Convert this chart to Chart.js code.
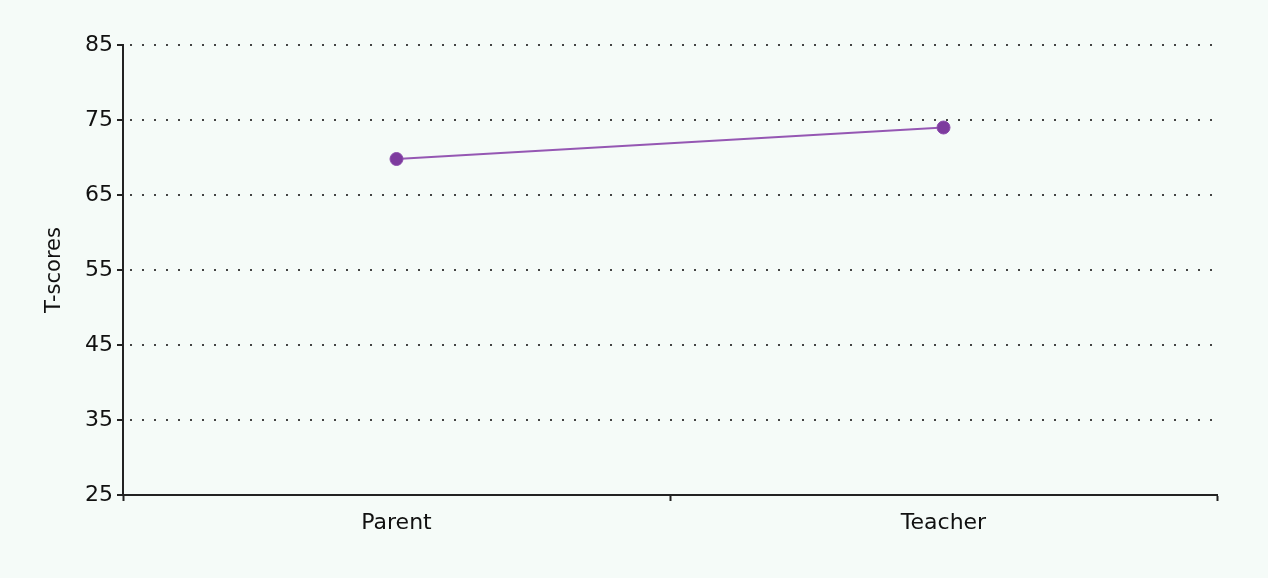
<!DOCTYPE html>
<html>
<head>
<meta charset="utf-8">
<script src="https://cdn.jsdelivr.net/npm/chart.js@4.4.1/dist/chart.umd.min.js"></script>
<style>
  html, body { margin: 0; padding: 0; background: #f5fbf8; }
  #wrap { width: 1268px; height: 578px; }
</style>
</head>
<body>
<div id="wrap"><canvas id="chart"></canvas></div>
<script>
// chart data
const raters = ['Parent', 'Teacher'];
const tScores = [69.8, 74];
const yTicks = [25, 35, 45, 55, 65, 75, 85];

const FONT = '"DejaVu Sans", sans-serif';

const ctx = document.getElementById('chart').getContext('2d');

new Chart(ctx, {
    type: 'line',
    data: {
        labels: raters,
        datasets: [{
            data: tScores,
            borderColor: '#9557b3',
            borderWidth: 2,
            backgroundColor: '#7d3b9e',
            pointBackgroundColor: '#7d3b9e',
            pointBorderColor: '#8a4aab',
            pointBorderWidth: 1,
            pointRadius: 6.5,
            tension: 0,
            fill: false
        }]
    },
    options: {
        responsive: true,
        maintainAspectRatio: false,
        animation: false,
        layout: {
            padding: { top: 45, right: 51, bottom: 0, left: 0 }
        },
        plugins: {
            legend: { display: false },
            tooltip: { enabled: false }
        },
        scales: {
            x: {
                type: 'category',
                offset: true,
                border: { display: true, color: '#222', width: 2 },
                grid: {
                    offset: true,
                    drawOnChartArea: false,
                    drawTicks: true,
                    tickLength: 6,
                    tickColor: '#222',
                    tickWidth: 2
                },
                ticks: {
                    color: '#111',
                    padding: 9,
                    font: { family: FONT, size: 22 }
                },
                afterFit: function(scale) { scale.height = 83; }
            },
            y: {
                min: 25,
                max: 85,
                afterBuildTicks: function(scale) {
                    scale.ticks = yTicks.map(v => ({ value: v }));
                },
                border: { display: true, color: '#222', width: 2, dash: [2, 10], dashOffset: -6 },
                grid: {
                    color: '#444',
                    lineWidth: 2,
                    tickLength: 6,
                    tickColor: '#222',
                    tickWidth: 2,
                    tickBorderDash: []
                },
                ticks: {
                    color: '#111',
                    padding: 4,
                    font: { family: FONT, size: 22 }
                },
                title: {
                    display: true,
                    text: 'T-scores',
                    color: '#111',
                    font: { family: FONT, size: 21 },
                    padding: { top: 42, bottom: 0 }
                },
                afterFit: function(scale) { scale.width = 123; }
            }
        }
    }
});
</script>
</body>
</html>
